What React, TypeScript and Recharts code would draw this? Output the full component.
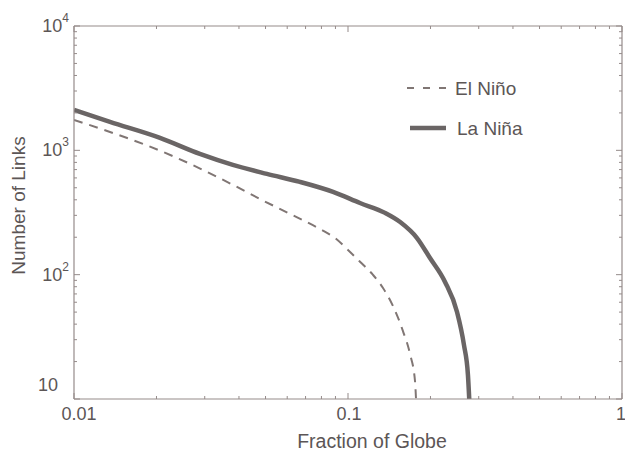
import React from 'react';
import { LineChart, Line, XAxis, YAxis, Legend } from 'recharts';

const laNinaX = [0.01, 0.01353, 0.0206, 0.0288, 0.038, 0.0506, 0.0668, 0.0882, 0.1106, 0.1365, 0.155, 0.1786, 0.1992, 0.226, 0.25, 0.265, 0.274, 0.277];
const laNinaY = [2113, 1692, 1259, 935, 763, 646, 557, 463, 377, 314, 265, 197, 136, 87.4, 50.1, 27.2, 15.6, 10];
const elNinoX = [0.01, 0.01353, 0.01786, 0.02376, 0.0306, 0.0387, 0.0477, 0.0604, 0.079, 0.0897, 0.1, 0.1106, 0.1234, 0.1342, 0.1459, 0.1587, 0.1684, 0.1756, 0.1771];
const elNinoY = [1757, 1406, 1126, 869, 670, 517, 406, 314, 233, 197, 158, 127, 99.5, 78.2, 56, 35.2, 23, 13.96, 10];

const xMajor = [0.01, 0.1, 1];
const xMinor = [0.02, 0.03, 0.04, 0.05, 0.06, 0.07, 0.08, 0.09, 0.2, 0.3, 0.4, 0.5, 0.6, 0.7, 0.8, 0.9];
const yMajor = [10, 100, 1000, 10000];
const yMinor = [20, 30, 40, 50, 60, 70, 80, 90, 200, 300, 400, 500, 600, 700, 800, 900, 2000, 3000, 4000, 5000, 6000, 7000, 8000, 9000];
const xTickLabels: Record<number, string> = { 0.01: '0.01', 0.1: '0.1', 1: '1' };
const yTickExp: Record<number, string> = { 10: '', 100: '2', 1000: '3', 10000: '4' };

const laNina = laNinaX.map((x, i) => ({ x, y: laNinaY[i] }));
const elNino = elNinoX.map((x, i) => ({ x, y: elNinoY[i] }));

const FONT = '"Liberation Sans", Arial, sans-serif';
const TXT = '#5c5656';
const AX = '#958b8a';
const SOLID = '#6a6565';
const DASH = '#807674';

const XTick = (side: 'bottom' | 'top') => (props: any) => {
  const { x, y, payload } = props;
  const v = payload.value;
  const major = xMajor.includes(v);
  const len = major ? 6 : 3;
  const dir = side === 'bottom' ? -1 : 1;
  return (
    <g>
      <line x1={x} x2={x} y1={y} y2={y + dir * len} stroke={AX} strokeWidth={1} />
      {side === 'bottom' && major && (
        <text x={v === 0.01 ? x + 5 : v === 1 ? x - 1 : x + 1} y={y + 15} textAnchor="middle" dominantBaseline="central" fill={TXT} fontSize={18} fontFamily={FONT}>
          {xTickLabels[v]}
        </text>
      )}
    </g>
  );
};

const YTick = (side: 'left' | 'right') => (props: any) => {
  const { x, y, payload } = props;
  const v = payload.value;
  const major = yMajor.includes(v);
  const len = major ? 6 : 3;
  const dir = side === 'left' ? 1 : -1;
  const exp = yTickExp[v];
  return (
    <g>
      <line x1={x} x2={x + dir * len} y1={y} y2={y} stroke={AX} strokeWidth={1} />
      {side === 'left' && major && (
        exp ? (
          <text x={x - 5} y={y} textAnchor="end" dominantBaseline="central" fill={TXT} fontSize={18} fontFamily={FONT}>
            <tspan>10</tspan>
            <tspan dy={-8} fontSize={12}>{exp}</tspan>
          </text>
        ) : (
          <text x={x - 16} y={y - 14} textAnchor="end" dominantBaseline="central" fill={TXT} fontSize={18} fontFamily={FONT}>
            10
          </text>
        )
      )}
    </g>
  );
};

const LegendContent = () => (
  <svg width={160} height={80}>
    <line x1={7} x2={48} y1={18} y2={18} stroke={DASH} strokeWidth={2} strokeDasharray="7 9" />
    <text x={55} y={18} dominantBaseline="central" fill={TXT} fontSize={19} fontFamily={FONT}>El Niño</text>
    <line x1={10} x2={46} y1={58} y2={58} stroke={SOLID} strokeWidth={4.5} />
    <text x={57} y={58} dominantBaseline="central" fill={TXT} fontSize={19} fontFamily={FONT}>La Niña</text>
  </svg>
);

export default function App() {
  return (
    <div style={{ position: 'absolute', left: 0, top: 0, background: '#fff' }}>
      <LineChart width={625} height={451} margin={{ top: 25, right: 2, left: 0, bottom: 0 }}>
        <XAxis
          dataKey="x"
          type="number"
          scale="log"
          domain={[0.01, 1]}
          allowDataOverflow
          ticks={[...xMajor, ...xMinor]}
          interval={0}
          tickSize={0}
          tickMargin={0}
          tickLine={false}
          height={52}
          axisLine={{ stroke: AX, strokeWidth: 1.2 }}
          tick={XTick('bottom')}
          label={(p: any) => {
            const vb = p.viewBox || { x: 74, y: 399, width: 548 };
            return (
              <text x={vb.x + vb.width / 2 + 24} y={vb.y + 42} textAnchor="middle" dominantBaseline="central" fill={TXT} fontSize={19.5} fontFamily={FONT}>
                Fraction of Globe
              </text>
            );
          }}
        />
        <XAxis
          xAxisId="top"
          orientation="top"
          dataKey="x"
          type="number"
          scale="log"
          domain={[0.01, 1]}
          allowDataOverflow
          ticks={[...xMajor, ...xMinor]}
          interval={0}
          tickSize={0}
          tickMargin={0}
          tickLine={false}
          height={1}
          axisLine={{ stroke: AX, strokeWidth: 1.2 }}
          tick={XTick('top')}
        />
        <YAxis
          dataKey="y"
          type="number"
          scale="log"
          domain={[10, 10000]}
          allowDataOverflow
          ticks={[...yMajor, ...yMinor]}
          interval={0}
          tickSize={0}
          tickMargin={0}
          tickLine={false}
          width={74}
          axisLine={{ stroke: AX, strokeWidth: 1.2 }}
          tick={YTick('left')}
          label={(p: any) => {
            const vb = p.viewBox || { x: 0, y: 26, height: 373 };
            const cx = vb.x + 18;
            const cy = vb.y + vb.height / 2 - 7;
            return (
              <text x={cx} y={cy} transform={`rotate(-90 ${cx} ${cy})`} textAnchor="middle" dominantBaseline="central" fill={TXT} fontSize={19} fontFamily={FONT}>
                Number of Links
              </text>
            );
          }}
        />
        <YAxis
          yAxisId="right"
          orientation="right"
          dataKey="y"
          type="number"
          scale="log"
          domain={[10, 10000]}
          allowDataOverflow
          ticks={[...yMajor, ...yMinor]}
          interval={0}
          tickSize={0}
          tickMargin={0}
          tickLine={false}
          width={1}
          axisLine={{ stroke: AX, strokeWidth: 1.2 }}
          tick={YTick('right')}
        />
        <Legend
          layout="vertical"
          align="center"
          verticalAlign="middle"
          content={LegendContent}
          wrapperStyle={{ position: 'absolute', left: 400, top: 70, width: 160, height: 80 }}
        />
        <Line
          data={elNino}
          dataKey="y"
          name="El Niño"
          type="monotone"
          stroke={DASH}
          strokeWidth={2}
          strokeDasharray="9 7"
          dot={false}
          isAnimationActive={false}
        />
        <Line
          data={laNina}
          dataKey="y"
          name="La Niña"
          type="monotone"
          stroke={SOLID}
          strokeWidth={4.5}
          dot={false}
          isAnimationActive={false}
        />
      </LineChart>
    </div>
  );
}
